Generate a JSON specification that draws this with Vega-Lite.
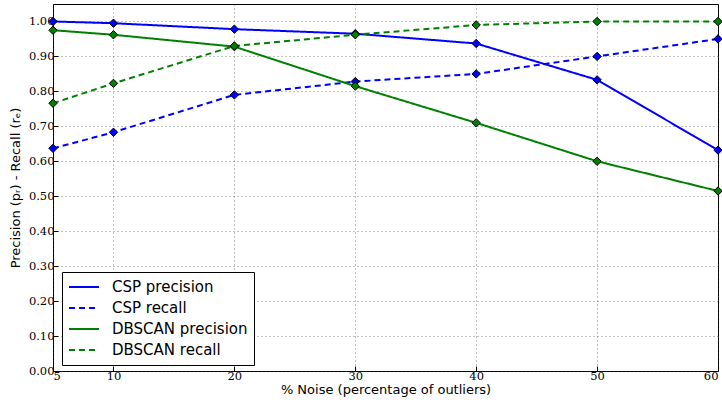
{
  "$schema": "https://vega.github.io/schema/vega-lite/v6.json",
  "width": 665,
  "height": 367,
  "autosize": {"type": "none"},
  "padding": {"left": 53, "top": 4, "right": 4, "bottom": 35},
  "config": {
    "view": {"stroke": "black", "strokeWidth": 1},
    "axis": {
      "grid": true,
      "gridColor": "#333333",
      "gridDash": [1, 3],
      "gridWidth": 0.6,
      "domain": false,
      "tickColor": "black",
      "tickSize": -5,
      "labelFont": "DejaVu Serif",
      "labelFontSize": 11.5,
      "labelColor": "black",
      "titleFont": "DejaVu Sans",
      "titleFontSize": 13,
      "titleFontWeight": "normal",
      "titleColor": "black"
    }
  },
  "data": {
    "values": [
      {"noise": 5, "series": "CSP precision", "v": 1.0},
      {"noise": 10, "series": "CSP precision", "v": 0.995},
      {"noise": 20, "series": "CSP precision", "v": 0.978},
      {"noise": 30, "series": "CSP precision", "v": 0.965},
      {"noise": 40, "series": "CSP precision", "v": 0.937},
      {"noise": 50, "series": "CSP precision", "v": 0.833},
      {"noise": 60, "series": "CSP precision", "v": 0.632},
      {"noise": 5, "series": "CSP recall", "v": 0.637},
      {"noise": 10, "series": "CSP recall", "v": 0.683},
      {"noise": 20, "series": "CSP recall", "v": 0.79},
      {"noise": 30, "series": "CSP recall", "v": 0.828},
      {"noise": 40, "series": "CSP recall", "v": 0.85},
      {"noise": 50, "series": "CSP recall", "v": 0.90},
      {"noise": 60, "series": "CSP recall", "v": 0.95},
      {"noise": 5, "series": "DBSCAN precision", "v": 0.975},
      {"noise": 10, "series": "DBSCAN precision", "v": 0.962},
      {"noise": 20, "series": "DBSCAN precision", "v": 0.928},
      {"noise": 30, "series": "DBSCAN precision", "v": 0.815},
      {"noise": 40, "series": "DBSCAN precision", "v": 0.71},
      {"noise": 50, "series": "DBSCAN precision", "v": 0.60},
      {"noise": 60, "series": "DBSCAN precision", "v": 0.515},
      {"noise": 5, "series": "DBSCAN recall", "v": 0.766},
      {"noise": 10, "series": "DBSCAN recall", "v": 0.823},
      {"noise": 20, "series": "DBSCAN recall", "v": 0.93},
      {"noise": 30, "series": "DBSCAN recall", "v": 0.962},
      {"noise": 40, "series": "DBSCAN recall", "v": 0.99},
      {"noise": 50, "series": "DBSCAN recall", "v": 1.0},
      {"noise": 60, "series": "DBSCAN recall", "v": 1.0}
    ]
  },
  "encoding": {
    "x": {
      "field": "noise",
      "type": "quantitative",
      "scale": {"domain": [5, 60], "nice": false, "zero": false},
      "axis": {"values": [5, 10, 20, 30, 40, 50, 60], "title": "% Noise (percentage of outliers)", "titlePadding": 2, "labelPadding": 4}
    },
    "y": {
      "field": "v",
      "type": "quantitative",
      "scale": {"domain": [0, 1.05], "nice": false},
      "axis": {"values": [0, 0.1, 0.2, 0.3, 0.4, 0.5, 0.6, 0.7, 0.8, 0.9, 1.0], "format": ".2f", "title": "Precision (pᵣ) - Recall (rₑ)", "titlePadding": 6, "labelPadding": 4}
    }
  },
  "layer": [
    {
      "mark": {"type": "line", "strokeWidth": 2},
      "encoding": {
        "color": {
          "field": "series",
          "type": "nominal",
          "scale": {"domain": ["CSP precision", "CSP recall", "DBSCAN precision", "DBSCAN recall"], "range": ["#0000ff", "#0000ff", "#008000", "#008000"]},
          "legend": {
            "title": null,
            "orient": "none",
            "legendX": 9,
            "legendY": 268,
            "symbolType": "stroke",
            "symbolSize": 900,
            "symbolStrokeWidth": 2,
            "clipHeight": 18,
            "labelFont": "DejaVu Sans",
            "labelFontSize": 15,
            "labelColor": "black",
            "rowPadding": 3,
            "strokeColor": "black",
            "fillColor": "white",
            "padding": 6,
            "labelOffset": 12
          }
        },
        "strokeDash": {
          "field": "series",
          "type": "nominal",
          "scale": {"domain": ["CSP precision", "CSP recall", "DBSCAN precision", "DBSCAN recall"], "range": [[1, 0], [6, 4], [1, 0], [6, 4]]},
          "legend": null
        }
      }
    },
    {
      "mark": {"type": "point", "shape": "diamond", "filled": true, "size": 70, "stroke": "black", "strokeWidth": 1, "opacity": 1},
      "encoding": {
        "fill": {
          "field": "series",
          "type": "nominal",
          "scale": {"domain": ["CSP precision", "CSP recall", "DBSCAN precision", "DBSCAN recall"], "range": ["#0000ff", "#0000ff", "#008000", "#008000"]},
          "legend": null
        }
      }
    }
  ]
}
